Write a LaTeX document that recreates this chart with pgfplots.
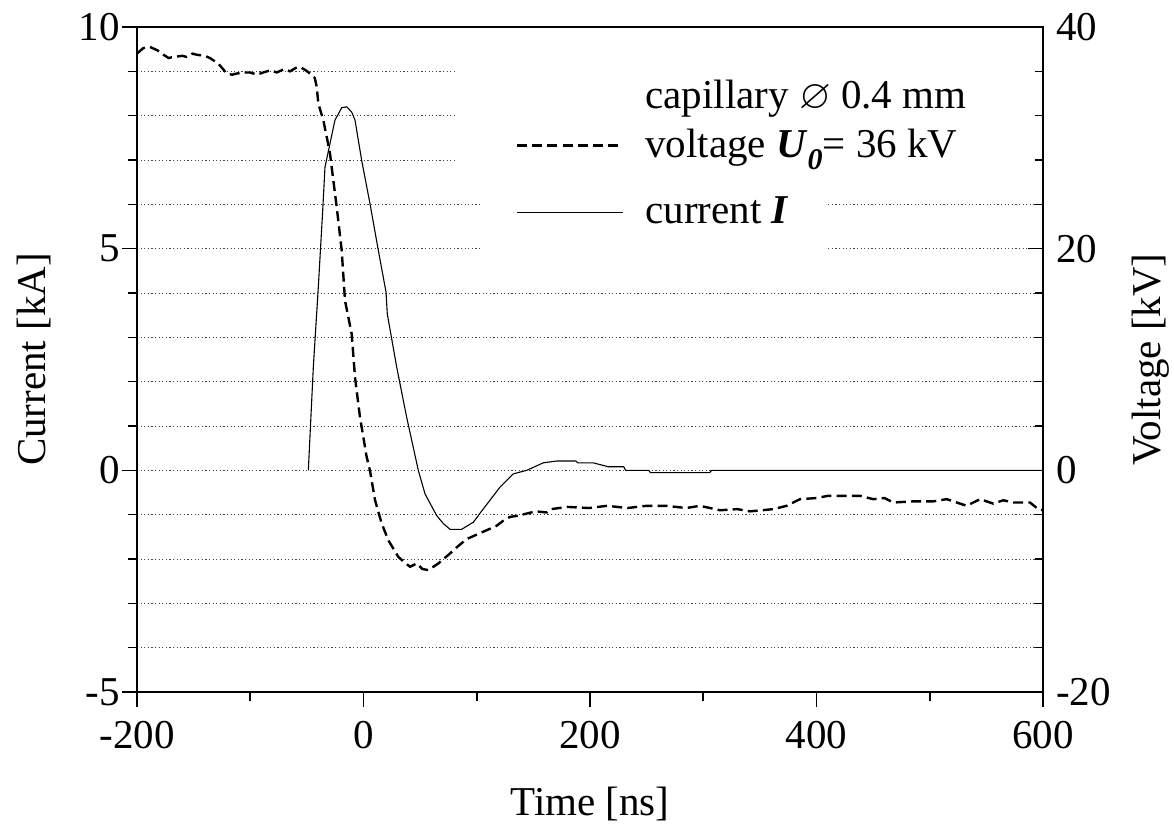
\documentclass[border=0pt]{standalone}
\usepackage{amssymb}
\usepackage{pgfplots}
\pgfplotsset{compat=1.18}
\usepackage{pgfplotstable}
\usepackage{fontspec}
\setmainfont{Liberation Serif}

\pgfplotstableread{
t I
-48.7 0
-44.3 2.33
-39.9 4.13
-36.0 5.87
-34.0 6.84
-29.6 7.37
-25.2 7.90
-19.2 8.18
-14.8 8.20
-10.4 8.08
-7.5 7.90
-1.6 6.99
5.7 6.02
13.1 4.96
19.9 4.02
21.0 3.53
29.3 2.33
38.1 1.20
48.4 0
54.3 -0.53
64.6 -1.02
70.5 -1.20
76.4 -1.33
86.7 -1.33
97.0 -1.17
105.8 -0.87
120.5 -0.38
132.3 -0.08
144.1 0
158.8 0.17
170.6 0.21
187.5 0.21
189.2 0.17
202.7 0.17
216.3 0.08
229.8 0.08
231.5 0
251.8 0
253.4 -0.05
305.8 -0.05
307.5 0
600 0
}\currentdata

\pgfplotstableread{
t V
-200 37.6
-194.4 38.1
-188.5 38.2
-182 37.9
-178.2 37.6
-172 37.2
-167.9 37.3
-160 37.4
-156.1 37.3
-151 37.6
-147.4 37.5
-140 37.4
-135.5 37.2
-128.2 36.7
-124 36.2
-120.8 35.8
-116 35.7
-112.0 35.8
-106 35.9
-100.2 35.9
-94 35.7
-88.5 35.9
-82 36.1
-76.6 35.9
-70 36.2
-64.9 36.0
-60 36.3
-56.1 36.4
-51 36.1
-47.2 35.8
-43 35.4
-41.3 34.6
-39.9 33.1
-35.5 31.6
-32.5 30.1
-29.6 28.6
-26.7 26.2
-23.7 23.8
-19.3 19.9
-16.3 15.3
-10.4 12.3
-7.5 8.4
-3.1 4.8
2.8 1.2
5.7 0
10.2 -2.7
16.1 -4.8
21.9 -6.3
30.7 -7.8
35 -8.2
41.1 -8.7
47.0 -8.4
52 -8.9
57.2 -9.0
66.1 -8.4
76.4 -7.5
84 -6.8
91.1 -6.2
100 -5.8
108.8 -5.4
117.6 -5.0
124 -4.5
129.4 -4.2
136 -4.1
144.1 -3.9
152 -3.7
161.8 -3.8
165.6 -3.5
180 -3.3
199.3 -3.4
215 -3.2
233.1 -3.4
250 -3.2
266.9 -3.2
285 -3.4
297.1 -3.2
314.8 -3.6
330 -3.5
341.3 -3.7
361.9 -3.5
373.7 -3.2
385.4 -2.6
400.2 -2.5
410 -2.3
420.8 -2.3
438.4 -2.3
450.2 -2.6
460 -2.5
467.9 -2.9
485.5 -2.8
503.2 -2.8
515 -2.6
523.8 -2.9
532.6 -3.2
544.4 -2.6
556.1 -3.0
565 -2.7
573.8 -2.9
588.5 -2.9
595.8 -3.5
600 -3.6
}\voltdata

\begin{document}
\begin{tikzpicture}[font=\fontsize{20.5}{24}\selectfont]
\useasboundingbox (-68.5pt,-67.5pt) rectangle (518.5pt,346pt);
\begin{axis}[
  at={(0,0)}, anchor=south west,
  scale only axis, width=453pt, height=332.5pt,
  xmin=-200, xmax=600, ymin=-5, ymax=10,
  xtick={-200,0,200,400,600}, minor xtick={-100,100,300,500},
  ytick={-5,0,5,10}, minor ytick={-4,-3,-2,-1,1,2,3,4,6,7,8,9},
  xtick pos=bottom, ytick pos=left,
  tick align=outside,
  major tick length=7.5pt, minor tick length=4.5pt,
  axis line style={line width=1pt},
  tick style={line width=0.8pt, black},
  ymajorgrids, yminorgrids,
  major grid style={black!75, line width=0.4pt, dash pattern=on 0.6pt off 1.2pt},
  minor grid style={black!75, line width=0.4pt, dash pattern=on 0.6pt off 1.2pt},
  /pgf/number format/assume math mode=true,
  tick label style={font=\fontsize{20.5}{24}\selectfont},
  xticklabel style={yshift=-3.5pt},
  yticklabel style={xshift=2.5pt},
  label style={font=\fontsize{20.5}{24}\selectfont},
  xlabel={Time [ns]}, ylabel={Current [kA]},
  xlabel style={at={(axis description cs:0.5,-0.185)}, anchor=base},
  ylabel style={at={(axis description cs:-0.1137,0.5)}, anchor=center},
]
\fill[white] (axis cs:82.6,6.5) rectangle (axis cs:598,9.9);
\fill[white] (axis cs:102.9,4.5) rectangle (axis cs:410.2,6.5);
\addplot[black, line width=0.55pt] table[x=t,y=I] {\currentdata};
\draw[black, line width=1.2pt, dash pattern=on 5pt off 2.6pt] (axis cs:135.5,7.33) -- (axis cs:229.1,7.33);
\draw[black, line width=0.6pt] (axis cs:135.5,5.82) -- (axis cs:229.1,5.82);
\node[anchor=base west, inner sep=0pt] at (axis cs:248.6,8.17) {capillary $\varnothing$ 0.4 mm};
\node[anchor=base west, inner sep=0pt] at (axis cs:248.6,7.06) {voltage \textbf{\textit{U}}\raisebox{-0.3em}{\fontsize{15}{16}\selectfont\textbf{\textit{0}}}= 36 kV};
\node[anchor=base west, inner sep=0pt] at (axis cs:248.6,5.57) {current \textbf{\textit{I}}};
\end{axis}
\begin{axis}[
  at={(0,0)}, anchor=south west,
  scale only axis, width=453pt, height=332.5pt,
  xmin=-200, xmax=600, ymin=-20, ymax=40,
  axis x line=none, axis y line*=right,
  ytick={-20,0,20,40}, minor ytick={-16,-12,-8,-4,4,8,12,16,24,28,32,36},
  ytick pos=right, tick align=inside,
  major tick length=7.5pt, minor tick length=4pt,
  axis line style={line width=1pt},
  tick style={line width=0.8pt, black},
  /pgf/number format/assume math mode=true,
  tick label style={font=\fontsize{20.5}{24}\selectfont},
  yticklabel style={xshift=3pt},
  label style={font=\fontsize{20.5}{24}\selectfont},
  ylabel={Voltage [kV]},
  ylabel style={at={(axis description cs:1.119,0.5)}, anchor=center},
]
\addplot[black, line width=1.2pt, dash pattern=on 5pt off 2.6pt] table[x=t,y=V] {\voltdata};
\end{axis}
\end{tikzpicture}
\end{document}
